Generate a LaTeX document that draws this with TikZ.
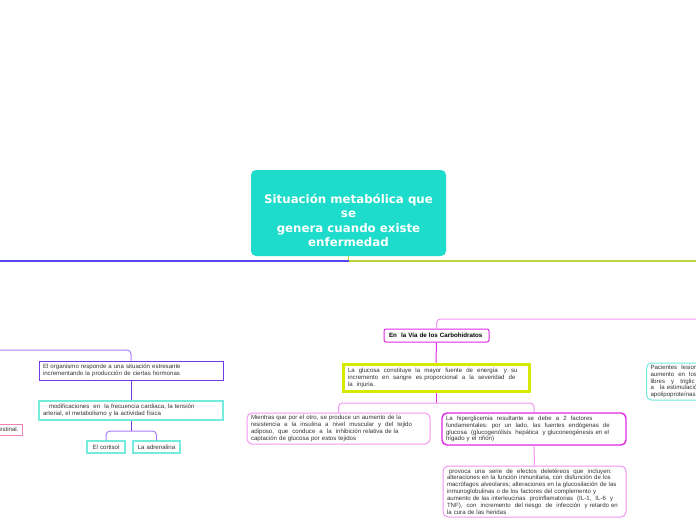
\documentclass[tikz,border=0pt]{standalone}
\usepackage{fontspec}
\usepackage{tikz}
\usetikzlibrary{positioning}
\newfontfamily\titlefont{DejaVu Sans}
\newfontfamily\boxfont{Liberation Sans}
\definecolor{mapteal}{RGB}{29,220,203}
\definecolor{mainblue}{RGB}{88,70,240}
\definecolor{mainlime}{RGB}{190,212,60}
\definecolor{lightpink}{RGB}{242,150,242}
\definecolor{mapmagenta}{RGB}{226,40,230}
\definecolor{mapyellow}{RGB}{214,234,0}
\definecolor{mappurple}{RGB}{110,60,232}
\definecolor{lightpurple}{RGB}{170,125,250}
\definecolor{lightteal}{RGB}{115,236,222}
\definecolor{rosepink}{RGB}{240,130,180}

\begin{document}
\begin{tikzpicture}[
    x=1pt, y=-1pt,
    box/.style={rectangle, draw=#1, line width=1pt, inner xsep=4pt, inner ysep=1pt,
                align=left, text=black!80,
                font=\boxfont\fontsize{6.1}{6.9}\selectfont},
    soft/.style={box=#1, rounded corners=5pt},
    link/.style={draw=#1, line width=1pt, rounded corners=4pt},
]
    \path[use as bounding box, fill=white] (0,0) rectangle (696,520);
    \clip (0,0) rectangle (696,520);

    % Central topic
    \node[rectangle, rounded corners=5pt, fill=mapteal, text=white,
          minimum width=195pt, minimum height=86pt, align=center, text height=68pt,
          font=\titlefont\bfseries\fontsize{11.8}{14.6}\selectfont] (topic) at (348.5,213)
          {Situación metabólica que\\se\\genera cuando existe\\enfermedad};
    \coordinate (hub) at (348.5,261);
    \coordinate (mainL) at (0,261);
    \coordinate (mainR) at (696,261);

    % Right branch
    \coordinate (carbin) at (696,319);
    \node[box=mapmagenta, rounded corners=2pt, inner xsep=5pt, text width=95pt, minimum height=13pt,
          font=\boxfont\bfseries\fontsize{6.2}{6.9}\selectfont, text=black] (carb) at (436.5,335.5)
          {En\ \ la Vía de los Carbohidratos};
    \node[box=mapyellow, line width=3pt, inner xsep=5pt, text width=176pt, minimum height=27pt] (glucosa) at (436,377.5)
          {La\ \ glucosa\ \ constituye\ \ la\ \ mayor\ \ fuente\ \ de\ \ energía\ \ \ y\ \ su\\
           incremento\ \ en\ \ sangre\ \ es proporcional\ \ a\ \ la\ \ severidad\ \ de\\
           la\ \ injuria.};
    \coordinate (gsplit) at (436,403);
    \node[soft=lightpink, text width=175pt, minimum height=31pt] (mientras) at (338.5,428.5)
          {Mientras que por el otro, se produce un aumento de la\\
           resistencia\ \ a\ \ la\ \ insulina\ \ a\ \ nivel\ \ muscular\ \ y\ \ del\ \ tejido\\
           adiposo,\ \ que\ \ conduce\ \ a\ \ la\ \ inhibición relativa de la\\
           captación de glucosa por estos tejidos};
    \node[soft=mapmagenta, line width=1.4pt, text width=176pt, minimum height=32pt] (hiper) at (534,429)
          {La\ \ hiperglicemia\ \ resultante\ \ se\ \ debe\ \ a\ \ 2\ \ factores\\
           fundamentales:\ \ por\ \ un\ \ lado,\ \ las\ \ fuentes\ \ endógenas\ \ de\\
           glucosa\ \ (glucogenólisis\ \ hepática\ \ y gluconeogénesis en el\\
           hígado y el riñón)};
    \node[soft=lightpink, text width=175pt, minimum height=51pt] (provoca) at (534.5,491.5)
          {\hspace*{2pt}provoca\ \ una\ \ serie\ \ de\ \ efectos\ \ deletéreos\ \ que\ \ incluyen:\\
           alteraciones en la función inmunitaria, con disfunción de los\\
           macrófagos alveolares; alteraciones en la glucosilación de las\\
           inmunoglobulinas o de los factores del complemento y\\
           aumento de las interleucinas\ \ proinflamatorias\ \ (IL-1,\ \ IL-6\ \ y\\
           TNF),\ \ con\ \ incremento\ \ del riesgo\ \ de\ \ infección\ \ y retardo en\\
           la cura de las heridas};
    \node[soft=lightteal, text width=90pt, minimum height=37pt, anchor=west] (pacientes) at (646,381.5)
          {Pacientes\ \ lesion\\
           aumento\ \ en\ \ los\\
           libres\ \ \ y\ \ \ triglic\\
           a\ \ \ la estimulació\\
           apolipoproteínas};

    % Left branch
    \coordinate (leftin) at (0,350);
    \node[box=mappurple, text width=176pt, minimum height=19pt] (organismo) at (131,370.5)
          {El organismo responde a una situación estresante\\
           incrementando la producción de ciertas hormonas};
    \node[box=lightteal, line width=1.4pt, text width=176pt, minimum height=19pt] (modif) at (131,410.5)
          {\hspace*{6pt}modificaciones\ \ en\ \ la frecuencia cardiaca, la tensión\\
           arterial, el metabolismo y la actividad física};
    \coordinate (msplit) at (131,431);
    \node[box=lightteal, line width=1.2pt, align=center, inner xsep=2pt, text width=34pt, minimum height=12pt] (cortisol) at (106,447)
          {El cortisol};
    \node[box=lightteal, line width=1.2pt, align=center, inner xsep=2pt, text width=43pt, minimum height=12pt] (adrenalina) at (156.5,447)
          {La adrenalina};
    \node[box=rosepink, align=right, text width=40pt, minimum height=11pt, anchor=east] (intestinal) at (23,429.5)
          {estinal.};

    % Main line
    \draw[link=mainlime, line width=1.6pt] (topic.south) -- (hub);
    \draw[link=mainblue, line width=2pt] (hub) -- (mainL);
    \draw[link=mainlime, line width=2pt] (hub) -- (mainR);

    % Right branch wiring
    \draw[link=lightpink] (carbin) -| (carb.north);
    \draw[link=mapmagenta] (carb.south) -- (glucosa.north);
    \draw[link=mapmagenta] (glucosa.south) -- (gsplit);
    \draw[link=lightpink] (gsplit) -| (mientras.north);
    \draw[link=lightpink] (gsplit) -| (hiper.north);
    \draw[link=lightpink] (hiper.south) -- (provoca.north);

    % Left branch wiring
    \draw[link=lightpurple] (leftin) -| (organismo.north);
    \draw[link=mappurple] (organismo.south) -- (modif.north);
    \draw[link=mappurple] (modif.south) -- (msplit);
    \draw[link=lightpurple] (msplit) -| (cortisol.north);
    \draw[link=lightpurple] (msplit) -| (adrenalina.north);
\end{tikzpicture}
\end{document}
